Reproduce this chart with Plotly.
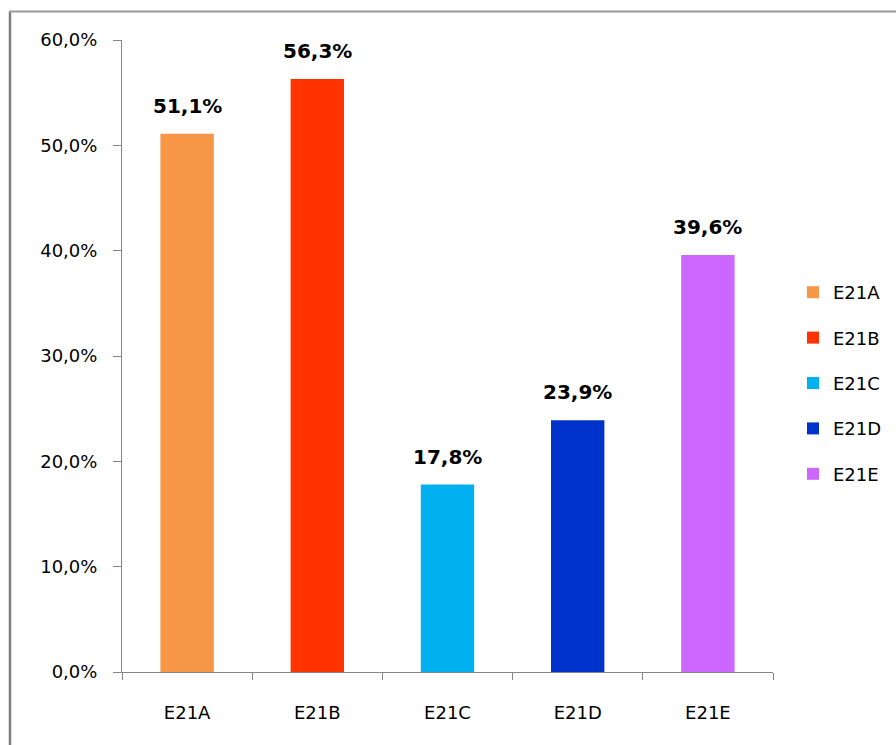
import plotly.graph_objects as go

categories = ["E21A", "E21B", "E21C", "E21D", "E21E"]
values = [51.1, 56.3, 17.8, 23.9, 39.6]
colors = ["#F79646", "#FF3300", "#00B0F0", "#0033CC", "#CC66FF"]
y_ticks = [0, 10, 20, 30, 40, 50, 60]
y_tick_labels = [f"{v:.1f}%".replace(".", ",") for v in y_ticks]

W, H = 896, 745
L, R, T, B = 122, 123, 40, 73
pw, ph = W - L - R, H - T - B

def px_x(p):
    return (p - L) / pw

def px_y(p):
    return (H - B - p) / ph

fig = go.Figure()
for cat, val, col in zip(categories, values, colors):
    fig.add_trace(go.Bar(
        x=[cat], y=[val], name=cat, marker=dict(color=col, line=dict(width=0)),
        width=0.41, legendgroup=cat, showlegend=True,
    ))
    fig.add_annotation(
        x=cat, y=val, text=f"{val:.1f}%".replace(".", ","), showarrow=False,
        yanchor="bottom", yshift=14,
        font=dict(family="DejaVu Sans", size=20, color="#000000", weight="bold"),
    )

axis_col = "#868686"
fig.update_layout(
    width=W, height=H,
    margin=dict(l=L, r=R, t=T, b=B, autoexpand=False),
    paper_bgcolor="white", plot_bgcolor="white",
    barmode="overlay",
    separators=",.",
    font=dict(family="DejaVu Sans", size=18, color="#000000"),
    xaxis=dict(
        type="category", categoryorder="array", categoryarray=categories,
        showline=True, linecolor=axis_col, linewidth=1,
        ticks="outside", tickson="boundaries", ticklen=7, tickcolor=axis_col,
        showgrid=False, ticklabelstandoff=24,
        tickfont=dict(size=18),
    ),
    yaxis=dict(
        range=[0, 60], tickmode="array", tickvals=y_ticks, ticktext=y_tick_labels,
        showline=True, linecolor=axis_col, linewidth=1,
        ticks="outside", ticklen=8, tickcolor=axis_col,
        showgrid=False, zeroline=False, ticklabelstandoff=12,
        tickfont=dict(size=18),
    ),
    legend=dict(
        xref="container", yref="container",
        x=793 / W, xanchor="left", y=(H - 383) / H, yanchor="middle",
        font=dict(size=18), tracegroupgap=19, bgcolor="rgba(0,0,0,0)",
    ),
    showlegend=True,
    shapes=[
        dict(type="line", xref="paper", yref="paper",
             x0=px_x(10), x1=px_x(10), y0=px_y(11.5), y1=px_y(H + 5),
             line=dict(color="#808080", width=2.5)),
        dict(type="line", xref="paper", yref="paper",
             x0=px_x(9), x1=px_x(W + 5), y0=px_y(11.5), y1=px_y(11.5),
             line=dict(color="#9A9A9A", width=2)),
    ],
)

fig.write_html(
    "out.html",
    config={"displayModeBar": False},
    post_script="document.body.style.margin='0';document.body.style.overflow='hidden';",
)
